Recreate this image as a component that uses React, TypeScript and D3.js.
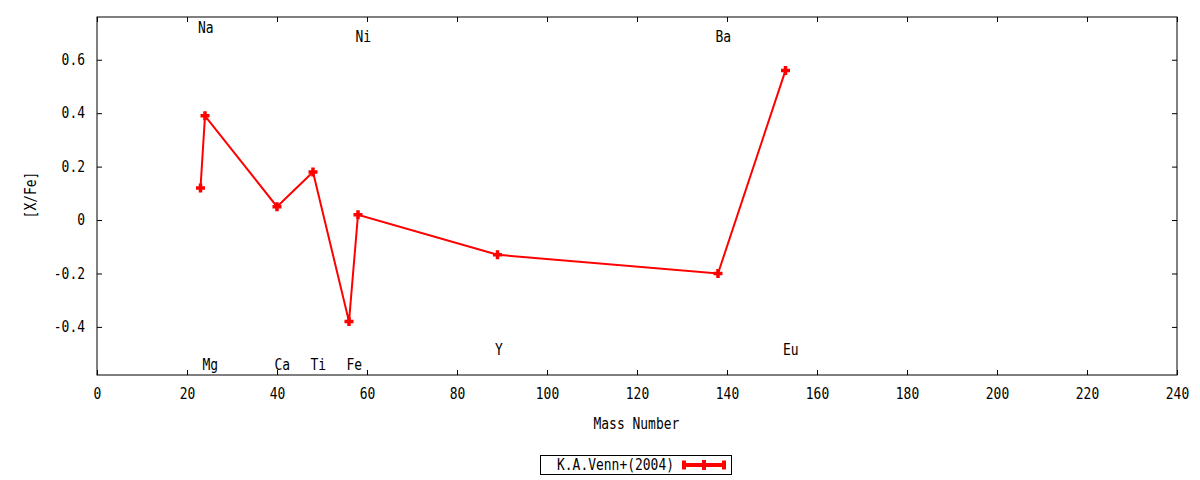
import { axisBottom, axisLeft, axisRight, axisTop, line, scaleLinear, select } from "d3";
import { useEffect, useRef } from "react";

// K.A.Venn+(2004) abundance pattern
const massNumbers = [23, 24, 40, 48, 56, 58, 89, 138, 153];
const xFe = [0.12, 0.39, 0.05, 0.18, -0.38, 0.02, -0.13, -0.2, 0.56];

// element labels (mass number of the element, label height in [X/Fe])
const elementNames = ["Na", "Mg", "Ca", "Ti", "Fe", "Ni", "Y", "Ba", "Eu"];
const elementLabelX = [23, 24, 40, 48, 56, 58, 89, 138, 153];
const elementLabelY = [0.72, -0.54, -0.54, -0.54, -0.54, 0.685, -0.485, 0.685, -0.485];

const xTicks = [0, 20, 40, 60, 80, 100, 120, 140, 160, 180, 200, 220, 240];
const yTicks = [-0.4, -0.2, 0, 0.2, 0.4, 0.6];

const seriesName = "K.A.Venn+(2004)";
const xLabel = "Mass Number";
const yLabel = "[X/Fe]";

const WIDTH = 1200;
const HEIGHT = 480;
const FONT = "'DejaVu Sans Mono', monospace";
const FONT_SIZE = 15;
const CHAR_W = 7.8; // gnuplot's narrow mono glyphs
const RED = "#ff0000";

// squeeze the mono text so it is tall but narrow, like the png terminal
function narrow(sel: any) {
  sel
    .attr("font-family", FONT)
    .attr("font-size", FONT_SIZE)
    .attr("fill", "#000")
    .each(function (this: SVGTextElement) {
      const n = (this.textContent || "").length;
      if (n > 0) {
        this.setAttribute("textLength", String(n * CHAR_W));
        this.setAttribute("lengthAdjust", "spacingAndGlyphs");
      }
    });
}

export default function App() {
  const svgRef = useRef<SVGSVGElement | null>(null);

  useEffect(() => {
    if (!svgRef.current) return;
    const svg = select(svgRef.current);
    svg.selectAll("*").remove();

    const margin = { top: 17, right: 23, bottom: 105, left: 97 };
    const innerWidth = WIDTH - margin.left - margin.right;
    const innerHeight = HEIGHT - margin.top - margin.bottom;

    const x = scaleLinear().domain([0, 240]).range([0, innerWidth]);
    const y = scaleLinear().domain([-0.58, 0.76]).range([innerHeight, 0]);

    svg.append("rect").attr("width", WIDTH).attr("height", HEIGHT).attr("fill", "#fff");

    const chart = svg.append("g").attr("transform", `translate(${margin.left},${margin.top})`);
    const fmt = (v: number) => String(Math.round(v * 10) / 10);

    const styleAxis = (g: any) => {
      g.select(".domain").remove();
      g.selectAll("line").attr("stroke", "#000").attr("stroke-width", 1);
      g.selectAll("text").call(narrow);
    };

    chart
      .append("g")
      .attr("transform", `translate(0,${innerHeight})`)
      .call(axisBottom(x).tickValues(xTicks).tickSize(-5).tickPadding(13).tickFormat((d) => fmt(+d)))
      .call(styleAxis);
    chart
      .append("g")
      .call(axisTop(x).tickValues(xTicks).tickSize(-5).tickFormat(() => ""))
      .call(styleAxis);
    chart
      .append("g")
      .call(axisLeft(y).tickValues(yTicks).tickSize(-5).tickPadding(12).tickFormat((d) => fmt(+d)))
      .call(styleAxis);
    chart
      .append("g")
      .attr("transform", `translate(${innerWidth},0)`)
      .call(axisRight(y).tickValues(yTicks).tickSize(-5).tickFormat(() => ""))
      .call(styleAxis);

    chart
      .append("rect")
      .attr("width", innerWidth)
      .attr("height", innerHeight)
      .attr("fill", "none")
      .attr("stroke", "#000")
      .attr("stroke-width", 1);

    const points = massNumbers.map((m, i) => [m, xFe[i]] as [number, number]);
    const path = line<[number, number]>()
      .x((d) => x(d[0]))
      .y((d) => y(d[1]));

    chart
      .append("path")
      .datum(points)
      .attr("d", path)
      .attr("fill", "none")
      .attr("stroke", RED)
      .attr("stroke-width", 2);

    const plus = (cx: number, cy: number, r: number) =>
      `M${cx - r},${cy}H${cx + r}M${cx},${cy - r}V${cy + r}`;

    chart
      .append("g")
      .selectAll("path")
      .data(points)
      .join("path")
      .attr("d", (d) => plus(x(d[0]), y(d[1]), 4.5))
      .attr("stroke", RED)
      .attr("stroke-width", 3.5)
      .attr("fill", "none");

    chart
      .append("g")
      .selectAll("text")
      .data(elementNames)
      .join("text")
      .attr("x", (_, i) => x(elementLabelX[i]) - 2.5)
      .attr("y", (_, i) => y(elementLabelY[i]))
      .attr("dy", "0.35em")
      .text((d) => d)
      .call(narrow);

    svg
      .append("text")
      .attr("x", margin.left + innerWidth / 2 - 43.5)
      .attr("y", 424)
      .attr("dy", "0.35em")
      .text(xLabel)
      .call(narrow);

    svg
      .append("text")
      .attr("transform", `translate(31,${195 + 23.4}) rotate(-90)`)
      .attr("dy", "0.35em")
      .text(yLabel)
      .call(narrow);

    // legend
    const legend = svg.append("g");
    legend
      .append("rect")
      .attr("x", 540.5)
      .attr("y", 455.5)
      .attr("width", 191)
      .attr("height", 19)
      .attr("fill", "#fff")
      .attr("stroke", "#000");
    legend
      .append("text")
      .attr("x", 674 - seriesName.length * CHAR_W)
      .attr("y", 465)
      .attr("dy", "0.35em")
      .text(seriesName)
      .call(narrow);
    legend
      .append("path")
      .attr("d", "M682,465H726M684,460.5V469.5M724,460.5V469.5")
      .attr("stroke", RED)
      .attr("stroke-width", 4)
      .attr("fill", "none");
    legend
      .append("path")
      .attr("d", plus(704, 465, 5))
      .attr("stroke", RED)
      .attr("stroke-width", 4)
      .attr("fill", "none");
  }, []);

  return (
    <svg
      ref={svgRef}
      width={WIDTH}
      height={HEIGHT}
      style={{ position: "absolute", left: 0, top: 0, display: "block" }}
    />
  );
}
